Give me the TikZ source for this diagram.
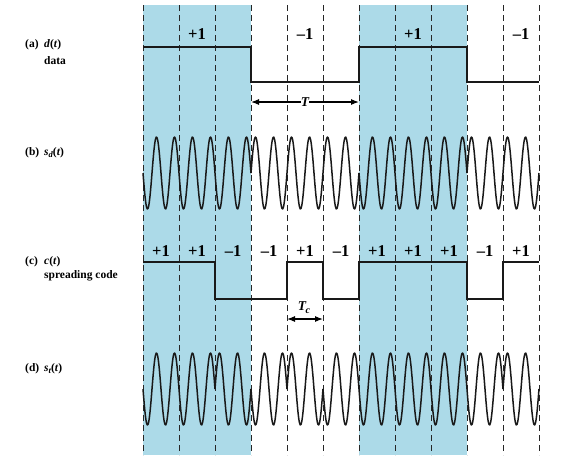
\documentclass[tikz,border=0pt]{standalone}
\usepackage{fontspec}
\setmainfont{Liberation Serif}
\usetikzlibrary{arrows.meta}
\definecolor{chipblue}{RGB}{172,218,232}
\begin{document}
\begin{tikzpicture}[x=1pt,y=-1pt,
  gridline/.style={line width=0.9pt,black!85,dash pattern=on 6pt off 4pt},
  sig/.style={line width=1.6pt,black!90,line join=miter},
  wave/.style={line width=1.5pt,black!90,line join=round},
  lvl/.style={font=\fontsize{16.5}{17}\selectfont\bfseries,inner sep=0pt},
  lab/.style={font=\fontsize{11.5}{12}\selectfont\bfseries,inner sep=0pt,anchor=west},
  dimlab/.style={font=\fontsize{13.5}{14}\selectfont\bfseries\itshape,inner sep=0pt},
  dim/.style={line width=1.1pt,{Latex[length=8pt,width=6pt]}-{Latex[length=8pt,width=6pt]}}]
\useasboundingbox (0,0) rectangle (574,475);
% blue bands
\fill[chipblue] (143,5) rectangle (251,455);
\fill[chipblue] (359,5) rectangle (467,455);
% dashed chip boundaries
\foreach \k in {0,...,11}{
  \draw[gridline] ({143+36*\k},5) -- ({143+36*\k},455);
}
% (a) data
\draw[sig] (143,47) -- (251,47) -- (251,82) -- (359,82) -- (359,47) -- (467,47) -- (467,82) -- (539,82);
\node[lvl] (a1) at (197,34.5) {+1};
\node[lvl] (a2) at (305,34.5) {--1};
\node[lvl] (a3) at (413,34.5) {+1};
\node[lvl] (a4) at (521,34.5) {--1};
\coordinate (TL) at (251,102);
\coordinate (TR) at (359,102);
\draw[dim] (TL) -- (TR) node[midway,fill=white,inner sep=2.5pt,dimlab] (Tlab) {T};
% (b) s_d(t)
\foreach \s [count=\i from 0] in {1,1,1,-1,-1,-1,1,1,1,-1,-1}{
  \pgfmathsetmacro{\xa}{143+36*\i}
  \pgfmathsetmacro{\xb}{179+36*\i}
  \draw[wave] plot[domain=\xa:\xb,samples=50,smooth] (\x,{173+\s*36*sin(20*(\x-143))});
}
% (c) c(t)
\draw[sig] (143,262) -- (215,262) -- (215,299) -- (287,299) -- (287,262) -- (323,262) -- (323,299) -- (359,299) -- (359,262) -- (467,262) -- (467,299) -- (503,299) -- (503,262) -- (539,262);
\foreach \t [count=\i from 0] in {+1,+1,--1,--1,+1,--1,+1,+1,+1,--1,+1}{
  \node[lvl] (c\i) at ({161+36*\i},251) {\t};
}
\coordinate (CL) at (287,319);
\coordinate (CR) at (323,319);
\draw[dim] (CL) -- (CR);
\node[dimlab] (Tc) at (304,308) {T\kern-0.5pt\raisebox{-3pt}{\fontsize{10}{10}\selectfont c}};
% (d) s_t(t)
\foreach \s [count=\i from 0] in {1,1,-1,1,-1,1,1,1,1,1,-1}{
  \pgfmathsetmacro{\xa}{143+36*\i}
  \pgfmathsetmacro{\xb}{179+36*\i}
  \draw[wave] plot[domain=\xa:\xb,samples=50,smooth] (\x,{389+\s*36*sin(20*(\x-143))});
}
% labels
\node[lab] (la) at (25,45) {(a)};
\node[lab] (lad) at (44,45) {\itshape d\/\upshape(\itshape t\/\upshape)};
\node[lab] (lad2) at (44,61) {data};
\node[lab] (lb) at (25,153) {(b)};
\node[lab] (lbs) at (44,153) {\itshape s\/\raisebox{-2pt}{\fontsize{8.5}{9}\selectfont d}\upshape(\itshape t\/\upshape)};
\node[lab] (lc) at (25,262) {(c)};
\node[lab] (lcc) at (44,262) {\itshape c\/\upshape(\itshape t\/\upshape)};
\node[lab] (lc2) at (44,276) {spreading code};
\node[lab] (ld) at (25,369) {(d)};
\node[lab] (lds) at (44,369) {\itshape s\/\raisebox{-2pt}{\fontsize{8.5}{9}\selectfont t}\upshape(\itshape t\/\upshape)};
\end{tikzpicture}
\end{document}
